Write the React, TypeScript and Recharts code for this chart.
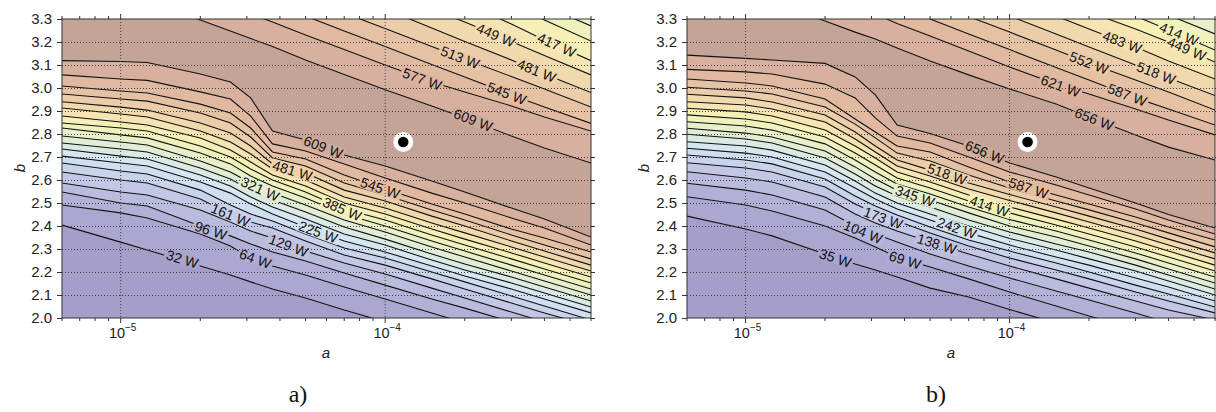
import { Area, ComposedChart, Line, ReferenceDot, XAxis, YAxis } from 'recharts';

// sample positions along a (log axis), shared by every contour line
const aGrid = [6e-6, 1e-5, 1.26e-5, 2e-5, 2.6e-5, 3.1e-5, 3.75e-5, 5e-5, 7e-5, 1e-4, 1.5e-4, 2e-4, 3e-4, 4e-4, 6e-4];

const xTicks = [6e-6, 7e-6, 8e-6, 9e-6, 1e-5, 2e-5, 3e-5, 4e-5, 5e-5, 6e-5, 7e-5, 8e-5, 9e-5, 1e-4, 2e-4, 3e-4, 4e-4, 5e-4, 6e-4];
const xMajor = [1e-5, 1e-4];
const yTicks = [2.0, 2.1, 2.2, 2.3, 2.4, 2.5, 2.6, 2.7, 2.8, 2.9, 3.0, 3.1, 3.2, 3.3];

// optimum marker
const optA = [1.17e-4];
const optB = [2.765];

// ---- panel a) ----
const levelsA = [32, 64, 96, 129, 161, 193, 225, 257, 289, 321, 353, 385, 417, 449, 481, 513, 545, 577, 609];
// b of each contour below the optimum, one row per level (32 .. 609)
const lowerA = [
  [2.404, 2.330, 2.296, 2.226, 2.187, 2.157, 2.126, 2.087, 2.035, 1.983, 1.922, 1.878, 1.817, 1.774, 1.704],
  [2.491, 2.457, 2.435, 2.365, 2.313, 2.261, 2.226, 2.187, 2.135, 2.083, 2.022, 1.978, 1.922, 1.878, 1.822],
  [2.548, 2.500, 2.487, 2.400, 2.357, 2.322, 2.287, 2.248, 2.196, 2.143, 2.083, 2.043, 1.983, 1.939, 1.887],
  [2.587, 2.548, 2.535, 2.470, 2.417, 2.378, 2.348, 2.291, 2.239, 2.191, 2.130, 2.087, 2.026, 1.983, 1.930],
  [2.635, 2.600, 2.587, 2.517, 2.452, 2.417, 2.391, 2.335, 2.274, 2.230, 2.170, 2.126, 2.065, 2.022, 1.965],
  [2.674, 2.639, 2.626, 2.556, 2.491, 2.452, 2.422, 2.365, 2.304, 2.261, 2.200, 2.157, 2.096, 2.052, 1.991],
  [2.704, 2.674, 2.661, 2.591, 2.543, 2.496, 2.452, 2.396, 2.335, 2.287, 2.226, 2.183, 2.126, 2.083, 2.022],
  [2.735, 2.704, 2.691, 2.622, 2.574, 2.526, 2.483, 2.430, 2.365, 2.317, 2.252, 2.209, 2.152, 2.109, 2.048],
  [2.761, 2.735, 2.722, 2.652, 2.604, 2.556, 2.513, 2.461, 2.396, 2.343, 2.278, 2.235, 2.178, 2.135, 2.074],
  [2.791, 2.765, 2.752, 2.683, 2.635, 2.587, 2.543, 2.491, 2.426, 2.374, 2.309, 2.265, 2.204, 2.161, 2.100],
  [2.826, 2.796, 2.783, 2.717, 2.670, 2.617, 2.574, 2.522, 2.452, 2.400, 2.335, 2.291, 2.230, 2.187, 2.126],
  [2.848, 2.826, 2.813, 2.748, 2.700, 2.648, 2.600, 2.548, 2.474, 2.426, 2.361, 2.317, 2.257, 2.213, 2.152],
  [2.878, 2.852, 2.839, 2.783, 2.730, 2.678, 2.622, 2.574, 2.500, 2.452, 2.387, 2.343, 2.283, 2.239, 2.178],
  [2.913, 2.887, 2.874, 2.813, 2.765, 2.713, 2.648, 2.600, 2.526, 2.478, 2.413, 2.370, 2.309, 2.265, 2.204],
  [2.940, 2.917, 2.904, 2.848, 2.804, 2.748, 2.670, 2.630, 2.556, 2.509, 2.443, 2.400, 2.335, 2.291, 2.230],
  [2.974, 2.952, 2.943, 2.891, 2.848, 2.787, 2.696, 2.661, 2.587, 2.535, 2.470, 2.426, 2.361, 2.317, 2.257],
  [3.009, 2.987, 2.978, 2.930, 2.891, 2.826, 2.722, 2.691, 2.622, 2.561, 2.496, 2.452, 2.387, 2.348, 2.287],
  [3.057, 3.039, 3.033, 2.983, 2.952, 2.878, 2.757, 2.726, 2.670, 2.609, 2.543, 2.500, 2.435, 2.391, 2.317],
  [3.119, 3.115, 3.111, 3.061, 3.026, 2.957, 2.813, 2.774, 2.709, 2.661, 2.596, 2.548, 2.478, 2.430, 2.352],
];
// contours above the optimum, from the optimum outwards
const upperLevelsA = [609, 577, 545, 513, 481, 449, 417, 385, 353];
const upperA = [
  [3.513, 3.417, 3.374, 3.296, 3.248, 3.215, 3.180, 3.122, 3.059, 2.992, 2.922, 2.870, 2.791, 2.739, 2.674],
  [3.600, 3.535, 3.491, 3.404, 3.352, 3.322, 3.287, 3.230, 3.167, 3.100, 3.026, 2.983, 2.922, 2.874, 2.813],
  [3.717, 3.622, 3.578, 3.487, 3.439, 3.404, 3.370, 3.313, 3.248, 3.180, 3.102, 3.048, 2.970, 2.917, 2.846],
  [3.791, 3.696, 3.652, 3.565, 3.517, 3.483, 3.448, 3.391, 3.326, 3.259, 3.180, 3.126, 3.050, 2.996, 2.917],
  [3.913, 3.813, 3.765, 3.670, 3.617, 3.583, 3.543, 3.487, 3.417, 3.343, 3.261, 3.202, 3.122, 3.061, 2.980],
  [3.991, 3.904, 3.861, 3.774, 3.722, 3.687, 3.643, 3.583, 3.504, 3.430, 3.343, 3.287, 3.202, 3.141, 3.057],
  [4.078, 3.991, 3.948, 3.861, 3.809, 3.774, 3.730, 3.665, 3.591, 3.513, 3.417, 3.370, 3.278, 3.209, 3.119],
  [4.165, 4.078, 4.035, 3.948, 3.896, 3.861, 3.817, 3.752, 3.678, 3.600, 3.504, 3.443, 3.365, 3.296, 3.204],
  [4.252, 4.165, 4.122, 4.035, 3.983, 3.948, 3.904, 3.839, 3.765, 3.687, 3.591, 3.530, 3.435, 3.357, 3.270],
];
const labelsA = [
  { text: '449 W', a: 2.62e-4, b: 3.23, angle: 23 },
  { text: '417 W', a: 4.45e-4, b: 3.187, angle: 24 },
  { text: '513 W', a: 1.92e-4, b: 3.133, angle: 21 },
  { text: '481 W', a: 3.74e-4, b: 3.075, angle: 22 },
  { text: '577 W', a: 1.38e-4, b: 3.039, angle: 20 },
  { text: '545 W', a: 2.88e-4, b: 2.977, angle: 21 },
  { text: '609 W', a: 2.15e-4, b: 2.861, angle: 21 },
  { text: '609 W', a: 5.83e-5, b: 2.743, angle: 21 },
  { text: '481 W', a: 4.46e-5, b: 2.641, angle: 17 },
  { text: '545 W', a: 9.57e-5, b: 2.565, angle: 19 },
  { text: '321 W', a: 3.37e-5, b: 2.561, angle: 24 },
  { text: '385 W', a: 6.88e-5, b: 2.474, angle: 23 },
  { text: '161 W', a: 2.6e-5, b: 2.448, angle: 23 },
  { text: '225 W', a: 5.58e-5, b: 2.374, angle: 20 },
  { text: '96 W', a: 2.19e-5, b: 2.38, angle: 18 },
  { text: '129 W', a: 4.31e-5, b: 2.315, angle: 21 },
  { text: '32 W', a: 1.71e-5, b: 2.256, angle: 17 },
  { text: '64 W', a: 3.23e-5, b: 2.258, angle: 20 },
];

// ---- panel b) ----
const levelsB = [35, 69, 104, 138, 173, 207, 242, 276, 311, 345, 380, 414, 449, 483, 518, 552, 587, 621, 656];
const lowerB = [
  [2.443, 2.387, 2.357, 2.278, 2.235, 2.209, 2.178, 2.130, 2.091, 2.037, 1.978, 1.935, 1.874, 1.830, 1.770],
  [2.527, 2.491, 2.465, 2.400, 2.348, 2.309, 2.265, 2.222, 2.170, 2.113, 2.052, 2.009, 1.952, 1.909, 1.848],
  [2.586, 2.556, 2.535, 2.470, 2.400, 2.365, 2.330, 2.278, 2.226, 2.174, 2.117, 2.078, 2.022, 1.978, 1.930],
  [2.636, 2.609, 2.591, 2.526, 2.452, 2.413, 2.378, 2.330, 2.278, 2.226, 2.170, 2.130, 2.074, 2.035, 1.991],
  [2.675, 2.652, 2.635, 2.570, 2.496, 2.457, 2.422, 2.370, 2.313, 2.261, 2.209, 2.170, 2.113, 2.074, 2.022],
  [2.709, 2.687, 2.670, 2.604, 2.530, 2.487, 2.448, 2.396, 2.339, 2.291, 2.239, 2.200, 2.143, 2.104, 2.048],
  [2.738, 2.717, 2.700, 2.635, 2.565, 2.517, 2.474, 2.426, 2.370, 2.317, 2.265, 2.230, 2.174, 2.135, 2.074],
  [2.766, 2.748, 2.730, 2.665, 2.596, 2.543, 2.500, 2.452, 2.400, 2.346, 2.296, 2.257, 2.204, 2.161, 2.100],
  [2.799, 2.778, 2.761, 2.696, 2.626, 2.574, 2.530, 2.483, 2.426, 2.374, 2.322, 2.287, 2.230, 2.187, 2.126],
  [2.825, 2.804, 2.787, 2.726, 2.657, 2.604, 2.556, 2.513, 2.457, 2.400, 2.352, 2.313, 2.257, 2.213, 2.152],
  [2.853, 2.835, 2.817, 2.757, 2.687, 2.635, 2.583, 2.539, 2.483, 2.428, 2.378, 2.339, 2.283, 2.239, 2.178],
  [2.883, 2.865, 2.848, 2.787, 2.717, 2.665, 2.609, 2.565, 2.509, 2.457, 2.404, 2.365, 2.309, 2.265, 2.204],
  [2.912, 2.896, 2.878, 2.817, 2.748, 2.696, 2.635, 2.591, 2.535, 2.483, 2.430, 2.391, 2.335, 2.291, 2.230],
  [2.940, 2.926, 2.909, 2.852, 2.778, 2.722, 2.661, 2.617, 2.561, 2.511, 2.457, 2.417, 2.361, 2.317, 2.257],
  [2.973, 2.957, 2.939, 2.883, 2.809, 2.748, 2.687, 2.643, 2.587, 2.537, 2.483, 2.443, 2.387, 2.343, 2.283],
  [3.003, 2.987, 2.974, 2.917, 2.843, 2.783, 2.717, 2.683, 2.622, 2.565, 2.509, 2.470, 2.413, 2.370, 2.309],
  [3.039, 3.022, 3.009, 2.952, 2.865, 2.809, 2.748, 2.722, 2.657, 2.591, 2.535, 2.496, 2.439, 2.396, 2.339],
  [3.081, 3.070, 3.061, 3.017, 2.957, 2.870, 2.791, 2.761, 2.700, 2.635, 2.578, 2.535, 2.474, 2.426, 2.365],
  [3.143, 3.129, 3.122, 3.107, 3.048, 2.970, 2.839, 2.802, 2.748, 2.674, 2.613, 2.565, 2.500, 2.450, 2.391],
];
const upperLevelsB = [656, 621, 587, 552, 518, 483, 449, 414, 380];
const upperB = [
  [3.513, 3.417, 3.374, 3.291, 3.243, 3.213, 3.174, 3.117, 3.057, 2.996, 2.930, 2.874, 2.796, 2.743, 2.687],
  [3.600, 3.535, 3.491, 3.400, 3.352, 3.322, 3.280, 3.226, 3.161, 3.091, 3.017, 2.974, 2.909, 2.861, 2.796],
  [3.709, 3.613, 3.570, 3.478, 3.430, 3.396, 3.357, 3.300, 3.235, 3.167, 3.089, 3.035, 2.957, 2.909, 2.839],
  [3.774, 3.678, 3.635, 3.548, 3.496, 3.461, 3.426, 3.374, 3.311, 3.243, 3.165, 3.109, 3.035, 2.983, 2.904],
  [3.861, 3.765, 3.722, 3.630, 3.578, 3.543, 3.504, 3.448, 3.383, 3.313, 3.235, 3.178, 3.100, 3.043, 2.967],
  [3.957, 3.857, 3.809, 3.717, 3.665, 3.630, 3.591, 3.535, 3.465, 3.396, 3.313, 3.257, 3.178, 3.117, 3.039],
  [4.035, 3.930, 3.883, 3.791, 3.739, 3.704, 3.665, 3.609, 3.539, 3.470, 3.387, 3.330, 3.257, 3.200, 3.113],
  [4.122, 4.017, 3.970, 3.874, 3.817, 3.783, 3.743, 3.687, 3.613, 3.539, 3.457, 3.396, 3.313, 3.252, 3.165],
  [4.200, 4.096, 4.043, 3.948, 3.891, 3.857, 3.817, 3.757, 3.683, 3.609, 3.522, 3.461, 3.378, 3.317, 3.235],
];
const labelsB = [
  { text: '414 W', a: 4.38e-4, b: 3.235, angle: 23 },
  { text: '449 W', a: 4.69e-4, b: 3.17, angle: 23 },
  { text: '483 W', a: 2.67e-4, b: 3.2, angle: 21 },
  { text: '518 W', a: 3.59e-4, b: 3.065, angle: 21 },
  { text: '552 W', a: 2.0e-4, b: 3.109, angle: 21 },
  { text: '587 W', a: 2.79e-4, b: 2.97, angle: 21 },
  { text: '621 W', a: 1.56e-4, b: 3.009, angle: 20 },
  { text: '656 W', a: 2.09e-4, b: 2.865, angle: 21 },
  { text: '656 W', a: 8.04e-5, b: 2.722, angle: 22 },
  { text: '518 W', a: 5.79e-5, b: 2.626, angle: 19 },
  { text: '587 W', a: 1.18e-4, b: 2.565, angle: 18 },
  { text: '345 W', a: 4.38e-5, b: 2.53, angle: 19 },
  { text: '414 W', a: 8.4e-5, b: 2.487, angle: 19 },
  { text: '173 W', a: 3.32e-5, b: 2.435, angle: 20 },
  { text: '242 W', a: 6.31e-5, b: 2.391, angle: 19 },
  { text: '104 W', a: 2.79e-5, b: 2.374, angle: 22 },
  { text: '138 W', a: 5.3e-5, b: 2.322, angle: 17 },
  { text: '35 W', a: 2.19e-5, b: 2.261, angle: 18 },
  { text: '69 W', a: 4.02e-5, b: 2.252, angle: 17 },
];

// fill of each band, from below the lowest level to above the highest
const bandColors = [
  '#a59ec8', '#aca7d1', '#b3b0d8', '#bbbbde', '#c3c6e5', '#cad3ec', '#d0def2', '#d6e7f1', '#dbeae3', '#e1edd5',
  '#e8f0c9', '#f0f2bd', '#f7f0b6', '#f6e4b2', '#f1d9ae', '#ebcdaa', '#e6c2a5', '#e1b8a0', '#d8b09f', '#c4a497',
];

const FONT = "'Liberation Sans', Arial, Helvetica, sans-serif";
const FLOOR = 1;
const CEIL = 5;
const CHART_H = 360;
const PLOT_TOP = 19;
const PLOT_LEFT = 62;
const PLOT_BOTTOM = 318;

function mix(c1: string, c2: string) {
  const p = (c: string, i: number) => parseInt(c.slice(1 + i * 2, 3 + i * 2), 16);
  const ch = [0, 1, 2].map((i) => Math.round((p(c1, i) + p(c2, i)) / 2).toString(16).padStart(2, '0'));
  return '#' + ch.join('');
}

function buildRows(lower: number[][], upper: number[][]) {
  return aGrid.map((a, i) => {
    const row: Record<string, number> = { a, k0: FLOOR };
    lower.forEach((line, j) => (row['k' + (j + 1)] = line[i]));
    upper.forEach((line, j) => (row['k' + (lower.length + 1 + j)] = line[i]));
    row['k' + (lower.length + upper.length + 1)] = CEIL;
    return row;
  });
}

interface PanelProps {
  left: number;
  width: number;
  marginRight: number;
  levels: number[];
  lower: number[][];
  upperLevels: number[];
  upper: number[][];
  labels: { text: string; a: number; b: number; angle: number }[];
}

function Panel({ left, width, marginRight, levels, lower, upperLevels, upper, labels }: PanelProps) {
  const rows = buildRows(lower, upper);
  const nLower = lower.length;
  const nBounds = lower.length + upper.length + 2;
  const plotRight = width - marginRight;

  const bandFor = (i: number) => (i <= nLower ? i : levels.indexOf(upperLevels[i - nLower - 1]));

  const XTick = (props: any) => {
    const { x, y, payload } = props;
    const v = payload.value as number;
    const major = xMajor.some((m) => Math.abs(v / m - 1) < 1e-6);
    const len = major ? 5 : 3;
    return (
      <g>
        {major && (
          <line x1={x} y1={PLOT_TOP} x2={x} y2={y} stroke="#444" strokeDasharray="1 2" />
        )}
        <line x1={x} y1={y} x2={x} y2={y + len} stroke="#333" />
        <line x1={x} y1={PLOT_TOP} x2={x} y2={PLOT_TOP - len} stroke="#333" />
        {major && (
          <text x={x + 2} y={y + 20} textAnchor="middle" fontFamily={FONT} fontSize={14.5} fill="#222">
            10
            <tspan dy={-7} fontSize={10}>
              {'\u2212' + Math.abs(Math.round(Math.log10(v)))}
            </tspan>
          </text>
        )}
      </g>
    );
  };

  const YTick = (props: any) => {
    const { x, y, payload, index } = props;
    const v = payload.value as number;
    const inner = v > 2.05 && v < 3.25;
    const yy = Math.round(y) + 0.5;
    return (
      <g>
        {index === 0 && (
          <rect
            x={PLOT_LEFT}
            y={PLOT_TOP}
            width={plotRight - PLOT_LEFT}
            height={PLOT_BOTTOM - PLOT_TOP}
            fill="none"
            stroke="#333"
          />
        )}
        {inner && <line x1={x} y1={yy} x2={plotRight} y2={yy} stroke="#444" strokeDasharray="1 2" />}
        <line x1={x - 5} y1={yy} x2={x} y2={yy} stroke="#333" />
        <line x1={plotRight} y1={yy} x2={plotRight + 4} y2={yy} stroke="#333" />
        <text x={x - 10} y={y + 5} textAnchor="end" fontFamily={FONT} fontSize={15} fill="#222">
          {v.toFixed(1)}
        </text>
      </g>
    );
  };

  return (
    <div style={{ position: 'absolute', left, top: 0 }}>
      <ComposedChart
        width={width}
        height={CHART_H}
        data={rows}
        margin={{ top: PLOT_TOP, right: marginRight, bottom: 0, left: 0 }}
      >
        {Array.from({ length: nBounds - 1 }, (_, i) => (
          <Area
            key={'band' + i}
            type="linear"
            dataKey={(r: Record<string, number>) => [r['k' + i], r['k' + (i + 1)]]}
            stroke="none"
            fill={bandColors[bandFor(i)]}
            fillOpacity={1}
            dot={false}
            activeDot={false}
            isAnimationActive={false}
          />
        ))}
        {Array.from({ length: nBounds - 2 }, (_, i) => (
          <Line
            key={'line' + i}
            type="linear"
            dataKey={'k' + (i + 1)}
            stroke="#111"
            strokeWidth={1.1}
            dot={false}
            activeDot={false}
            isAnimationActive={false}
          />
        ))}
        {labels.map((l, i) => {
          const j = levels.indexOf(parseInt(l.text, 10));
          const bg = mix(bandColors[j], bandColors[j + 1]);
          return (
            <ReferenceDot
              key={'lab' + i}
              x={l.a}
              y={l.b}
              r={1}
              shape={(p: any) => {
                const w = l.text.length * 7.7 + 6;
                return (
                  <g transform={`translate(${p.cx},${p.cy}) rotate(${l.angle})`}>
                    <rect x={-w / 2} y={-6} width={w} height={12} fill={bg} />
                    <text x={0} y={5} textAnchor="middle" fontFamily={FONT} fontSize={14} fill="#111">
                      {l.text}
                    </text>
                  </g>
                );
              }}
            />
          );
        })}
        <ReferenceDot x={optA[0]} y={optB[0]} r={10} fill="#fff" stroke="none" />
        <ReferenceDot x={optA[0]} y={optB[0]} r={5.3} fill="#000" stroke="none" />
        <XAxis
          dataKey="a"
          type="number"
          scale="log"
          domain={[6e-6, 6e-4]}
          allowDataOverflow
          ticks={xTicks}
          interval={0}
          height={CHART_H - PLOT_BOTTOM}
          axisLine={false}
          tickLine={false}
          tickSize={0}
          tickMargin={0}
          tick={XTick}
        />
        <YAxis
          type="number"
          domain={[2, 3.3]}
          allowDataOverflow
          ticks={yTicks}
          interval={0}
          width={PLOT_LEFT}
          axisLine={false}
          tickLine={false}
          tickSize={0}
          tickMargin={0}
          tick={YTick}
        />
      </ComposedChart>
    </div>
  );
}

export default function App() {
  return (
    <div
      style={{
        position: 'absolute',
        left: 0,
        top: 0,
        width: 1216,
        height: 412,
        background: '#fff',
        overflow: 'hidden',
      }}
    >
      <Panel
        left={0}
        width={600}
        marginRight={9}
        levels={levelsA}
        lower={lowerA}
        upperLevels={upperLevelsA}
        upper={upperA}
        labels={labelsA}
      />
      <Panel
        left={625}
        width={591}
        marginRight={1}
        levels={levelsB}
        lower={lowerB}
        upperLevels={upperLevelsB}
        upper={upperB}
        labels={labelsB}
      />
      <svg width={1216} height={412} style={{ position: 'absolute', left: 0, top: 0, pointerEvents: 'none' }}>
        <text x={326} y={358} textAnchor="middle" fontFamily={FONT} fontStyle="italic" fontSize={15} fill="#222">
          a
        </text>
        <text x={951} y={358} textAnchor="middle" fontFamily={FONT} fontStyle="italic" fontSize={15} fill="#222">
          a
        </text>
        <text x={25} y={168} textAnchor="middle" transform="rotate(-90 25 168)" fontFamily={FONT} fontStyle="italic" fontSize={15} fill="#222">
          b
        </text>
        <text x={649} y={168} textAnchor="middle" transform="rotate(-90 649 168)" fontFamily={FONT} fontStyle="italic" fontSize={15} fill="#222">
          b
        </text>
        <text x={298} y={402} textAnchor="middle" fontFamily="'Liberation Serif', 'DejaVu Serif', serif" fontSize={24} fill="#111">
          a)
        </text>
        <text x={936} y={402} textAnchor="middle" fontFamily="'Liberation Serif', 'DejaVu Serif', serif" fontSize={24} fill="#111">
          b)
        </text>
      </svg>
    </div>
  );
}
